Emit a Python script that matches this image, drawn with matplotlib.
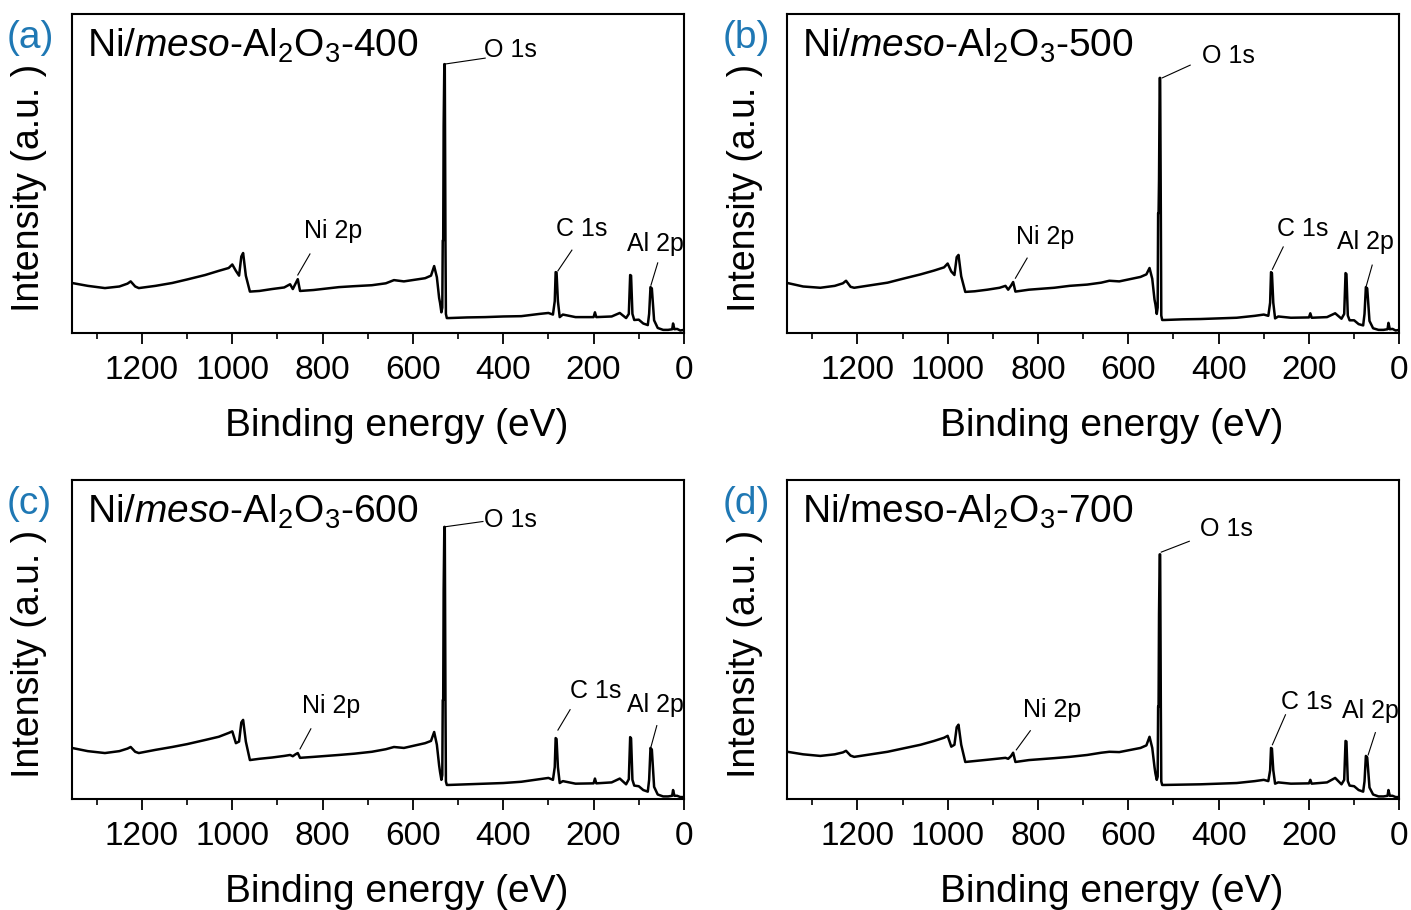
import matplotlib as mpl
mpl.use('Agg')
from matplotlib import pyplot as plt
from matplotlib.ticker import MultipleLocator

# binding energies (eV), shared by the four survey spectra
energy = [1355, 1320, 1282, 1250, 1232, 1225, 1215, 1207, 1170, 1133,
          1100, 1060, 1030, 1008, 1000, 992, 985, 980, 976, 970,
          961, 940, 912, 885, 872, 866, 860, 855, 850, 820,
          764, 730, 691, 660, 642, 620, 573, 560, 553, 547,
          542, 540, 537, 535, 534, 533, 532, 530.5, 529.5, 528,
          527, 525, 520, 480, 440, 400, 360, 320, 300, 290,
          286, 284, 282, 279, 275, 268, 240, 200, 197, 194,
          160, 142, 128, 122, 119, 117, 114, 110, 100, 90,
          80, 77, 74, 71, 66, 58, 46, 35, 26, 24,
          21, 15, 8, 0]

# intensities (a.u.)
int_400 = [15.7, 14.8, 14.1, 14.6, 15.5, 16.2, 14.6, 14.1, 14.8, 15.7,
           16.8, 18.2, 19.5, 20.4, 21.5, 19.5, 18.0, 24.0, 25.1, 18.0,
           13.0, 13.2, 13.8, 14.3, 15.3, 13.8, 15.5, 16.9, 13.2, 13.5,
           14.4, 14.7, 15.0, 15.6, 16.6, 16.2, 17.2, 18.0, 21.0, 17.5,
           11.0, 9.5, 6.5, 8.0, 29.0, 29.0, 65.0, 84.3, 84.3, 29.0,
           6.0, 4.7, 4.7, 4.9, 5.0, 5.2, 5.3, 6.0, 6.3, 5.8,
           10.0, 19.1, 19.0, 10.0, 5.0, 5.8, 5.0, 5.0, 6.5, 5.0,
           5.2, 6.3, 4.7, 6.0, 18.2, 18.0, 6.0, 4.1, 4.2, 3.0,
           2.5, 6.0, 14.4, 14.0, 4.0, 1.6, 1.0, 1.0, 1.2, 3.0,
           1.2, 1.3, 0.8, 1.0]

int_500 = [15.7, 14.6, 14.2, 14.8, 15.6, 16.4, 14.5, 14.2, 15.0, 15.8,
           17.0, 18.4, 19.6, 20.6, 21.8, 19.3, 18.2, 23.8, 24.5, 17.8,
           12.9, 13.1, 13.6, 14.2, 14.8, 13.6, 14.8, 16.0, 13.0, 13.6,
           14.2, 14.8, 15.2, 15.8, 16.4, 16.2, 17.6, 18.4, 20.4, 17.0,
           10.5, 9.0, 6.0, 8.0, 37.6, 37.6, 48.0, 80.0, 80.0, 37.6,
           5.5, 4.1, 4.1, 4.3, 4.4, 4.6, 4.8, 5.4, 5.8, 5.4,
           9.5, 19.1, 18.8, 9.5, 4.6, 5.2, 4.8, 4.9, 6.2, 4.8,
           5.0, 6.2, 4.5, 6.0, 18.8, 18.5, 5.5, 4.0, 4.0, 2.8,
           2.4, 6.0, 14.4, 14.0, 3.8, 1.5, 1.0, 1.0, 1.2, 3.2,
           1.2, 1.3, 0.8, 1.0]

int_600 = [16.0, 15.0, 14.4, 15.0, 15.8, 16.3, 14.8, 14.4, 15.4, 16.3,
           17.2, 18.5, 19.5, 20.7, 21.2, 17.5, 18.0, 24.0, 24.8, 18.0,
           12.2, 12.6, 13.0, 13.5, 13.8, 13.4, 14.0, 14.4, 12.9, 13.2,
           13.8, 14.2, 14.8, 15.6, 16.3, 16.0, 17.5, 18.2, 21.0, 17.0,
           10.5, 8.5, 6.0, 7.5, 31.0, 31.0, 65.5, 85.3, 85.3, 31.0,
           5.5, 4.4, 4.4, 4.6, 4.8, 5.0, 5.4, 6.2, 6.6, 6.0,
           10.0, 19.1, 18.8, 10.0, 5.0, 5.6, 4.8, 4.9, 6.4, 4.9,
           5.2, 6.4, 4.6, 6.2, 19.4, 19.0, 6.0, 4.2, 4.0, 2.8,
           2.3, 6.0, 16.0, 15.5, 3.8, 1.4, 0.8, 0.8, 1.0, 2.8,
           1.0, 1.0, 0.6, 0.6]

int_700 = [14.8, 14.0, 13.5, 14.0, 14.6, 15.1, 13.6, 13.2, 14.0, 14.8,
           15.8, 17.0, 18.2, 19.2, 19.8, 16.4, 17.0, 22.5, 23.3, 17.0,
           11.6, 11.9, 12.3, 12.7, 12.9, 12.6, 13.4, 14.5, 11.6, 12.2,
           12.8, 13.2, 13.8, 14.5, 14.8, 14.7, 16.0, 16.8, 19.5, 16.0,
           10.0, 8.0, 6.0, 7.0, 29.0, 29.0, 57.9, 76.7, 76.7, 29.0,
           5.5, 4.4, 4.4, 4.5, 4.6, 4.8, 5.0, 5.6, 6.0, 5.6,
           9.0, 16.0, 15.8, 9.0, 4.8, 5.2, 4.8, 4.9, 6.0, 4.8,
           5.2, 6.6, 4.6, 6.0, 18.2, 18.0, 5.6, 4.2, 4.0, 2.8,
           2.3, 5.5, 13.5, 13.0, 3.6, 1.4, 0.8, 0.8, 1.0, 2.8,
           1.0, 1.0, 0.6, 0.6]

spectra = [int_400, int_500, int_600, int_700]
temps = ['400', '500', '600', '700']
panel_tags = ['(a)', '(b)', '(c)', '(d)']
peak_names = ['O 1s', 'Ni 2p', 'C 1s', 'Al 2p']

# annotation layout per panel: (text x, text y, line start, line end)
ann_layout = [
    [(385, 88.7, (440, 86.2), (531, 84.3)),
     (777, 32.0, (828, 24.8), (855, 18.2)),
     (226, 32.5, (248, 26.0), (279, 19.5)),
     (64, 28.0, (58, 22.0), (73, 15.0))],
    [(379, 87.0, (463, 84.0), (525, 80.0)),
     (784, 30.0, (824, 23.5), (850, 17.2)),
     (215, 32.5, (257, 27.0), (281, 20.0)),
     (75, 28.5, (60, 21.3), (73, 14.8))],
    [(385, 87.5, (445, 87.0), (531, 85.3)),
     (781, 29.0, (826, 22.0), (850, 15.7)),
     (195, 34.0, (252, 28.0), (279, 21.6)),
     (64, 29.5, (60, 23.0), (73, 16.3))],
    [(383, 84.5, (465, 80.8), (527, 77.4)),
     (768, 28.0, (817, 21.4), (848, 15.4)),
     (206, 30.5, (252, 26.4), (281, 17.0)),
     (64, 27.5, (53, 20.8), (69, 13.8))],
]

plt.rcParams['font.family'] = 'Liberation Sans'
plt.rcParams['mathtext.fontset'] = 'custom'
plt.rcParams['mathtext.rm'] = 'Liberation Sans'
plt.rcParams['mathtext.it'] = 'Liberation Sans:italic'

fig = plt.figure(figsize=(14.11, 9.10), dpi=100)

boxes = [(0.051, 0.634), (0.558, 0.634), (0.051, 0.122), (0.558, 0.122)]
w, h = 0.4337, 0.3505

for i in range(4):
    ax = fig.add_axes([boxes[i][0], boxes[i][1], w, h])
    ax.plot(energy, spectra[i], color='black', lw=1.8)
    ax.set_xlim(1355, 0)
    ax.set_ylim(0, 100)
    ax.xaxis.set_major_locator(MultipleLocator(200))
    ax.xaxis.set_minor_locator(MultipleLocator(100))
    ax.tick_params(axis='x', which='major', direction='out', length=8,
                   width=1.3, labelsize=24, pad=8)
    ax.tick_params(axis='x', which='minor', direction='out', length=4.5, width=1.2)
    ax.set_yticks([])
    for sp in ax.spines.values():
        sp.set_linewidth(1.5)
    ax.set_xlabel('Binding energy (eV)', fontsize=28)
    ax.xaxis.set_label_coords(0.53, -0.235)
    ax.set_ylabel('Intensity (a.u. )', fontsize=27)
    ax.yaxis.set_label_coords(-0.04, 0.455)

    if i == 3:
        title = r'Ni/meso-Al$_2$O$_3$-' + temps[i]
    else:
        title = r'Ni/$\mathit{meso}$-Al$_2$O$_3$-' + temps[i]
    ax.text(0.024, 0.865, title, transform=ax.transAxes, fontsize=28,
            va='baseline', ha='left')

    for name, (tx, ty, p0, p1) in zip(peak_names, ann_layout[i]):
        ax.text(tx, ty, name, fontsize=18, ha='center', va='center')
        ax.plot([p0[0], p1[0]], [p0[1], p1[1]], color='black', lw=0.8)

    fig.text(boxes[i][0] - 0.046, boxes[i][1] + h - 0.026, panel_tags[i],
             color='#1f78b4', fontsize=28, ha='left', va='center')

plt.savefig('out.png', dpi=100)
